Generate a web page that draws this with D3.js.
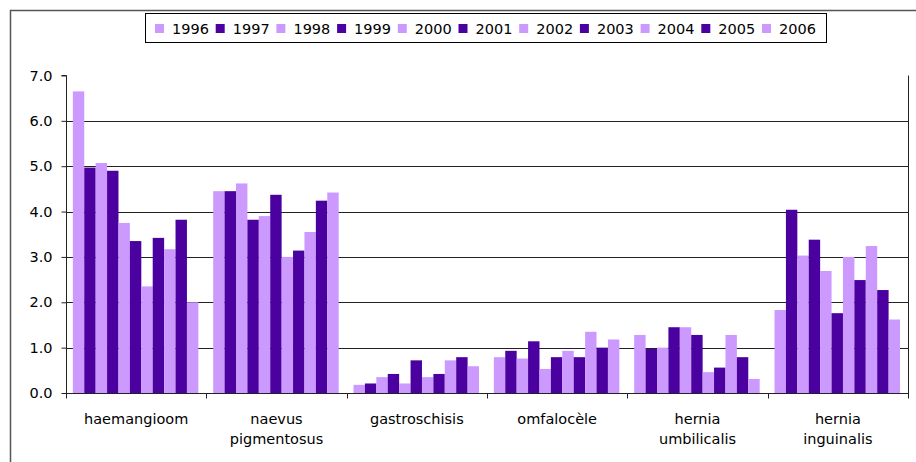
<!DOCTYPE html>
<html>
<head>
<meta charset="utf-8">
<script src="https://cdn.jsdelivr.net/npm/d3@7"></script>
<style>
  html, body { margin: 0; padding: 0; background: #fff; }
  svg { display: block; }
  text { font-family: "DejaVu Sans", Verdana, sans-serif; fill: #000; }
</style>
</head>
<body>
<svg id="chart" width="916" height="462"></svg>
<script>
// Aandoeningen per jaar (per 1000)
const categories = [
  ["haemangioom"],
  ["naevus", "pigmentosus"],
  ["gastroschisis"],
  ["omfalocèle"],
  ["hernia", "umbilicalis"],
  ["hernia", "inguinalis"]
];
const years = ["1996", "1997", "1998", "1999", "2000", "2001", "2002", "2003", "2004", "2005", "2006"];

const haemangioom      = [6.65, 4.97, 5.07, 4.90, 3.75, 3.35, 2.35, 3.42, 3.17, 3.82, 2.00];
const naevusPigment    = [4.45, 4.45, 4.62, 3.82, 3.90, 4.37, 3.00, 3.14, 3.55, 4.24, 4.42];
const gastroschisis    = [0.18, 0.21, 0.35, 0.42, 0.21, 0.72, 0.35, 0.42, 0.72, 0.79, 0.59];
const omfalocele       = [0.79, 0.93, 0.76, 1.14, 0.53, 0.79, 0.93, 0.79, 1.35, 1.00, 1.18];
const herniaUmbilical  = [1.28, 0.97, 1.00, 1.45, 1.45, 1.28, 0.46, 0.56, 1.28, 0.79, 0.31];
const herniaInguinal   = [1.83, 4.04, 3.03, 3.38, 2.69, 1.76, 3.00, 2.49, 3.24, 2.27, 1.62];

const yTicks = [0, 1, 2, 3, 4, 5, 6, 7];

const seriesByCategory = [haemangioom, naevusPigment, gastroschisis, omfalocele, herniaUmbilical, herniaInguinal];
const catKeys = categories.map(c => c.join(" "));
const table = catKeys.map((k, i) => ({ key: k, lines: categories[i], values: seriesByCategory[i] }));

const colorLight = "#CC99FF";
const colorDark = "#4B00A0";
const yearColor = d3.scaleOrdinal().domain(years).range(years.map((y, i) => i % 2 === 0 ? colorLight : colorDark));

const fontSize = "14.5px";
const svg = d3.select("#chart");

// outer chart frame
svg.append("path")
  .attr("d", "M10.5,470 V10.5 H930")
  .attr("fill", "none")
  .attr("stroke", "#555")
  .attr("stroke-width", 1.5);

const plot = { left: 66, right: 908, top: 75.5, bottom: 393 };

const x = d3.scaleBand().domain(catKeys).range([plot.left, plot.right]).paddingInner(0).paddingOuter(0);
const y = d3.scaleLinear().domain([0, 7]).range([plot.bottom, plot.top]);

const bw = x.bandwidth();
const unit = bw / 12.3;
const xYear = d3.scaleBand().domain(years).range([0.6 * unit, 11.6 * unit]).padding(0);

// gridlines
svg.append("g")
  .selectAll("line")
  .data(yTicks.filter(t => t > 0 && t < 7))
  .join("line")
  .attr("x1", plot.left).attr("x2", plot.right)
  .attr("y1", d => Math.round(y(d)) + 0.5).attr("y2", d => Math.round(y(d)) + 0.5)
  .attr("stroke", "#222")
  .attr("stroke-width", 1);

// bars
const groups = svg.append("g")
  .selectAll("g")
  .data(table)
  .join("g")
  .attr("transform", d => `translate(${x(d.key)},0)`);

groups.selectAll("rect")
  .data(d => d.values.map((v, i) => ({ year: years[i], value: v })))
  .join("rect")
  .attr("x", d => xYear(d.year))
  .attr("width", xYear.bandwidth())
  .attr("y", d => y(d.value))
  .attr("height", d => y(0) - y(d.value))
  .attr("fill", d => yearColor(d.year));

// y axis
const yAxis = d3.axisLeft(y).tickValues(yTicks).tickFormat(d3.format(".1f")).tickSize(5).tickPadding(9);
const gy = svg.append("g")
  .attr("transform", `translate(${plot.left + 0.5},0)`)
  .call(yAxis);
gy.select(".domain").attr("stroke", "#222").attr("d", `M-5,${y(7)}H0V${y(0)}`);
gy.selectAll(".tick line").attr("stroke", "#222");
gy.selectAll(".tick text").attr("font-size", fontSize).attr("font-family", "DejaVu Sans, sans-serif");

// x axis with separators between categories
const gx = svg.append("g").attr("transform", `translate(0,${plot.bottom + 0.5})`);
gx.append("line")
  .attr("x1", plot.left).attr("x2", plot.right)
  .attr("stroke", "#222");
const bounds = catKeys.map(k => x(k)).concat([plot.right]);
gx.selectAll("line.sep")
  .data(bounds)
  .join("line")
  .attr("class", "sep")
  .attr("x1", d => Math.round(d) + 0.5).attr("x2", d => Math.round(d) + 0.5)
  .attr("y1", 0).attr("y2", 5)
  .attr("stroke", "#222");

const labels = gx.selectAll("text.cat")
  .data(table)
  .join("text")
  .attr("class", "cat")
  .attr("text-anchor", "middle")
  .attr("font-size", fontSize)
  .attr("transform", d => `translate(${x(d.key) + bw / 2},30)`);
labels.selectAll("tspan")
  .data(d => d.lines)
  .join("tspan")
  .attr("x", 0)
  .attr("dy", (d, i) => i === 0 ? 0 : 20)
  .text(d => d);

// right edge of plot area
svg.append("line")
  .attr("x1", plot.right + 0.5).attr("x2", plot.right + 0.5)
  .attr("y1", plot.top).attr("y2", plot.bottom + 5)
  .attr("stroke", "#222");

// legend
const legend = svg.append("g");
legend.append("rect")
  .attr("x", 145.5).attr("y", 13.5)
  .attr("width", 681).attr("height", 29)
  .attr("fill", "#fff").attr("stroke", "#000");
const legendX = d3.scalePoint().domain(years).range([155, 762]);
const items = legend.selectAll("g.item")
  .data(years)
  .join("g")
  .attr("class", "item")
  .attr("transform", d => `translate(${legendX(d)},0)`);
items.append("rect")
  .attr("x", 0).attr("y", 24).attr("width", 9).attr("height", 9)
  .attr("fill", d => yearColor(d));
items.append("text")
  .attr("x", 17).attr("y", 34)
  .attr("font-size", fontSize)
  .text(d => d);
</script>
</body>
</html>
